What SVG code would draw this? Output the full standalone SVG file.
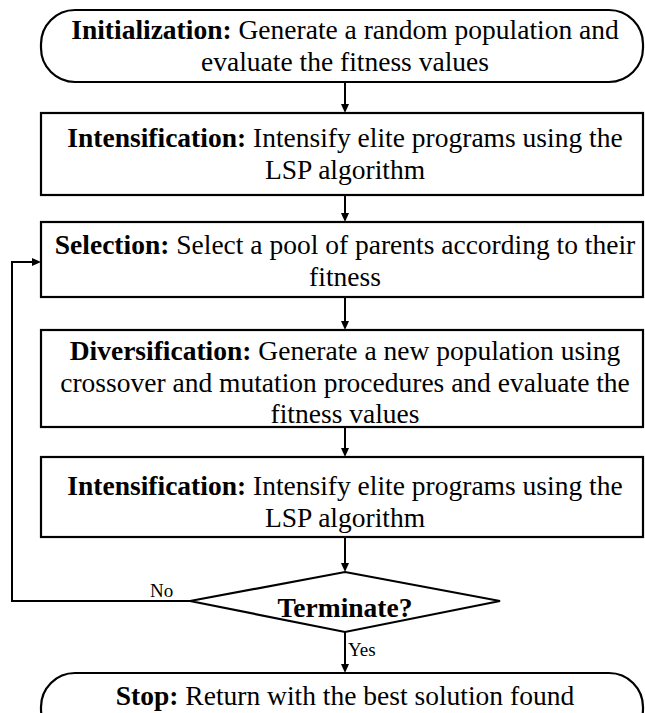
<svg xmlns="http://www.w3.org/2000/svg" width="645" height="713" viewBox="0 0 645 713">
  <rect width="645" height="713" fill="#fff"/>

  <!-- flow arrows and the loop back to Selection -->
  <g id="connectors">
    <g fill="none" stroke="#000" stroke-width="2">
      <line x1="345" y1="82" x2="345" y2="106"/>
      <line x1="345" y1="195" x2="345" y2="215"/>
      <line x1="345" y1="297" x2="345" y2="323"/>
      <line x1="345" y1="427" x2="345" y2="450"/>
      <line x1="345" y1="537" x2="345" y2="565"/>
      <line x1="345" y1="632" x2="345" y2="666"/>
      <polyline points="190,601 12,601 12,262 34,262"/>
    </g>
    <g fill="#000">
      <polygon points="341,104 349,104 345,113"/>
      <polygon points="341,213 349,213 345,222"/>
      <polygon points="341,321 349,321 345,330"/>
      <polygon points="341,448 349,448 345,457"/>
      <polygon points="341,563 349,563 345,572"/>
      <polygon points="341,664 349,664 345,673"/>
      <polygon points="32,258 32,266 41,262"/>
    </g>
    <text font-family="Liberation Serif" font-size="19" fill="#000" x="150" y="597">No</text>
    <text font-family="Liberation Serif" font-size="19" fill="#000" x="348" y="656">Yes</text>
  </g>

  <g id="init">
    <rect x="41" y="10" width="602" height="72" rx="34" ry="34" fill="#fff" stroke="#000" stroke-width="2.2"/>
    <text font-family="Liberation Serif" font-size="27.5" text-anchor="middle" fill="#000" x="345" y="39"><tspan font-weight="bold">Initialization:</tspan> Generate a random population and</text>
    <text font-family="Liberation Serif" font-size="27.5" text-anchor="middle" fill="#000" x="345" y="71">evaluate the fitness values</text>
  </g>

  <g id="intensification1">
    <rect x="41" y="113" width="602" height="82" fill="#fff" stroke="#000" stroke-width="2.2"/>
    <text font-family="Liberation Serif" font-size="27.5" text-anchor="middle" fill="#000" x="345" y="147"><tspan font-weight="bold">Intensification:</tspan> Intensify elite programs using the</text>
    <text font-family="Liberation Serif" font-size="27.5" text-anchor="middle" fill="#000" x="345" y="179">LSP algorithm</text>
  </g>

  <g id="selection">
    <rect x="41" y="222" width="602" height="75" fill="#fff" stroke="#000" stroke-width="2.2"/>
    <text font-family="Liberation Serif" font-size="27.5" text-anchor="middle" fill="#000" x="345" y="254"><tspan font-weight="bold">Selection:</tspan> Select a pool of parents according to their</text>
    <text font-family="Liberation Serif" font-size="27.5" text-anchor="middle" fill="#000" x="345" y="286">fitness</text>
  </g>

  <g id="diversification">
    <rect x="41" y="330" width="602" height="97" fill="#fff" stroke="#000" stroke-width="2.2"/>
    <text font-family="Liberation Serif" font-size="27.5" text-anchor="middle" fill="#000" x="345" y="360"><tspan font-weight="bold">Diversification:</tspan> Generate a new population using</text>
    <text font-family="Liberation Serif" font-size="27.5" text-anchor="middle" fill="#000" x="345" y="392">crossover and mutation procedures and evaluate the</text>
    <text font-family="Liberation Serif" font-size="27.5" text-anchor="middle" fill="#000" x="345" y="423">fitness values</text>
  </g>

  <g id="intensification2">
    <rect x="41" y="457" width="602" height="80" fill="#fff" stroke="#000" stroke-width="2.2"/>
    <text font-family="Liberation Serif" font-size="27.5" text-anchor="middle" fill="#000" x="345" y="495"><tspan font-weight="bold">Intensification:</tspan> Intensify elite programs using the</text>
    <text font-family="Liberation Serif" font-size="27.5" text-anchor="middle" fill="#000" x="345" y="527">LSP algorithm</text>
  </g>

  <g id="terminate">
    <polygon points="345,572 500,601 345,632 190,601" fill="#fff" stroke="#000" stroke-width="2.2"/>
    <text font-family="Liberation Serif" font-size="27.5" font-weight="bold" text-anchor="middle" fill="#000" x="345" y="617">Terminate?</text>
  </g>

  <g id="stop">
    <rect x="41" y="673" width="602" height="70" rx="34" ry="34" fill="#fff" stroke="#000" stroke-width="2.2"/>
    <text font-family="Liberation Serif" font-size="27.5" text-anchor="middle" fill="#000" x="345" y="705"><tspan font-weight="bold">Stop:</tspan> Return with the best solution found</text>
  </g>
</svg>
